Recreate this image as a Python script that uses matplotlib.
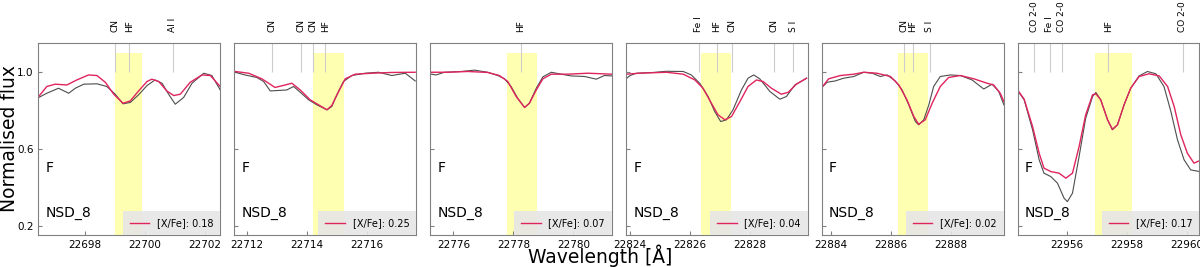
import numpy as np
import matplotlib
matplotlib.use('Agg')
import matplotlib.pyplot as plt
from matplotlib.ticker import MultipleLocator, FormatStrFormatter

# HF line centre of every window, fitted abundance and the yellow fit window
hf_centre = [22699.48, 22714.61, 22778.25, 22826.89, 22886.72, 22957.39]
xfe = [0.18, 0.25, 0.07, 0.04, 0.02, 0.17]
win_lo = [22699.0, 22714.22, 22777.77, 22826.37, 22886.23, 22956.94]
win_hi = [22699.9, 22715.24, 22778.77, 22827.37, 22887.23, 22958.16]

line_wave = [[22699.0, 22699.48, 22700.92],
             [22712.85, 22713.81, 22714.22, 22714.61],
             [22778.25],
             [22826.28, 22826.89, 22827.38, 22828.8, 22829.43],
             [22886.42, 22886.72, 22887.29],
             [22954.91, 22955.43, 22955.84, 22957.39, 22959.86]]
line_name = [['CN', 'HF', 'Al I'],
             ['CN', 'CN', 'CN', 'HF'],
             ['HF'],
             ['Fe I', 'HF', 'CN', 'CN', 'S I'],
             ['CN', 'HF', 'S I'],
             ['CO 2-0', 'Fe I', 'CO 2-0', 'HF', 'CO 2-0']]

p1_obs_w = [22696.46, 22696.73, 22697.12, 22697.46, 22697.68, 22697.96, 22698.40, 22698.73, 22699.01, 22699.27, 22699.51,
            22699.79, 22700.07, 22700.34, 22700.57, 22700.79, 22701.01, 22701.29, 22701.57, 22701.96, 22702.23, 22702.51]
p1_obs_f = [0.867, 0.889, 0.915, 0.889, 0.915, 0.936, 0.938, 0.924, 0.884, 0.834, 0.841,
            0.881, 0.929, 0.958, 0.941, 0.884, 0.832, 0.867, 0.941, 0.993, 0.981, 0.906]
p1_mod_w = [22696.46, 22696.73, 22697.01, 22697.40, 22697.73, 22698.12, 22698.40, 22698.68, 22698.96, 22699.27, 22699.51,
            22699.79, 22700.07, 22700.23, 22700.46, 22700.73, 22700.96, 22701.18, 22701.51, 22701.90, 22702.18, 22702.51]
p1_mod_f = [0.872, 0.924, 0.936, 0.932, 0.958, 0.984, 0.981, 0.946, 0.884, 0.837, 0.849,
            0.901, 0.950, 0.962, 0.950, 0.901, 0.877, 0.884, 0.946, 0.984, 0.981, 0.924]

p2_obs_w = [22711.61, 22711.94, 22712.33, 22712.56, 22712.78, 22713.00, 22713.33, 22713.56, 22713.78, 22714.06, 22714.33,
            22714.67, 22714.83, 22715.00, 22715.22, 22715.50, 22715.94, 22716.39, 22716.83, 22717.28, 22717.61]
p2_obs_f = [0.998, 0.984, 0.971, 0.950, 0.901, 0.903, 0.906, 0.924, 0.894, 0.855, 0.829,
            0.803, 0.820, 0.881, 0.950, 0.981, 0.993, 0.998, 0.981, 0.993, 0.953]
p2_mod_w = [22711.61, 22712.06, 22712.50, 22712.94, 22713.28, 22713.50, 22713.78, 22714.11, 22714.39, 22714.67, 22714.83,
            22715.03, 22715.28, 22715.61, 22716.17, 22716.83, 22717.61]
p2_mod_f = [1.002, 0.993, 0.964, 0.919, 0.932, 0.941, 0.906, 0.855, 0.829, 0.803, 0.825,
            0.889, 0.964, 0.988, 0.993, 0.997, 0.998]

p3_obs_w = [22775.26, 22775.42, 22775.70, 22776.26, 22776.70, 22777.14, 22777.48, 22777.70, 22777.92, 22778.14, 22778.37,
            22778.53, 22778.76, 22778.98, 22779.26, 22779.59, 22779.92, 22780.37, 22780.76, 22781.03, 22781.28]
p3_obs_f = [0.988, 0.984, 0.998, 1.002, 1.009, 0.998, 0.981, 0.964, 0.924, 0.863, 0.815,
            0.837, 0.915, 0.974, 0.998, 0.988, 0.979, 0.976, 0.962, 0.981, 0.979]
p3_mod_w = [22775.26, 22775.81, 22776.48, 22777.14, 22777.53, 22777.81, 22778.09, 22778.37, 22778.53, 22778.76, 22778.98,
            22779.26, 22779.81, 22780.48, 22781.28]
p3_mod_f = [0.998, 0.998, 1.002, 0.997, 0.981, 0.950, 0.872, 0.815, 0.837, 0.906, 0.964,
            0.988, 0.988, 0.993, 0.988]

p4_obs_w = [22823.86, 22824.00, 22824.21, 22824.77, 22825.21, 22825.77, 22826.04, 22826.32, 22826.60, 22826.82, 22827.02,
            22827.21, 22827.43, 22827.71, 22827.93, 22828.12, 22828.32, 22828.66, 22828.99, 22829.21, 22829.49, 22829.88]
p4_obs_f = [0.964, 0.981, 0.993, 0.997, 1.003, 1.002, 0.984, 0.941, 0.872, 0.794, 0.742,
            0.751, 0.803, 0.906, 0.967, 0.984, 0.964, 0.898, 0.858, 0.872, 0.932, 0.967]
p4_mod_w = [22823.86, 22824.32, 22825.21, 22825.77, 22826.16, 22826.43, 22826.71, 22826.93, 22827.16, 22827.38, 22827.66,
            22827.93, 22828.21, 22828.43, 22828.71, 22829.04, 22829.27, 22829.54, 22829.88]
p4_mod_f = [0.988, 0.993, 0.998, 0.988, 0.958, 0.915, 0.837, 0.777, 0.751, 0.768, 0.846,
            0.924, 0.958, 0.950, 0.915, 0.884, 0.894, 0.936, 0.967]

p5_obs_w = [22883.70, 22883.87, 22884.14, 22884.42, 22884.76, 22885.09, 22885.37, 22885.64, 22885.87, 22886.14, 22886.37,
            22886.59, 22886.81, 22886.92, 22887.09, 22887.26, 22887.42, 22887.64, 22887.98, 22888.31, 22888.70, 22889.09,
            22889.37, 22889.59, 22889.76]
p5_obs_f = [0.920, 0.946, 0.953, 0.967, 0.976, 0.998, 0.993, 0.976, 0.984, 0.953, 0.906,
            0.829, 0.742, 0.725, 0.751, 0.829, 0.924, 0.976, 0.984, 0.981, 0.958, 0.911,
            0.936, 0.898, 0.829]
p5_mod_w = [22883.70, 22883.92, 22884.31, 22884.76, 22885.09, 22885.53, 22885.98, 22886.26, 22886.53, 22886.76, 22886.92,
            22887.14, 22887.37, 22887.64, 22887.92, 22888.31, 22888.76, 22889.20, 22889.42, 22889.64, 22889.76]
p5_mod_f = [0.920, 0.964, 0.981, 0.988, 0.998, 0.993, 0.976, 0.932, 0.855, 0.768, 0.728,
            0.751, 0.837, 0.924, 0.971, 0.981, 0.964, 0.941, 0.932, 0.889, 0.846]

p6_obs_w = [22954.36, 22954.58, 22954.86, 22955.08, 22955.24, 22955.47, 22955.69, 22955.91, 22956.02, 22956.19, 22956.41,
            22956.63, 22956.86, 22956.97, 22957.13, 22957.36, 22957.52, 22957.69, 22957.91, 22958.13, 22958.41, 22958.69,
            22958.97, 22959.24, 22959.47, 22959.69, 22959.91, 22960.13, 22960.43]
p6_obs_f = [0.903, 0.855, 0.699, 0.543, 0.474, 0.456, 0.422, 0.344, 0.326, 0.370, 0.560,
            0.759, 0.872, 0.893, 0.855, 0.751, 0.699, 0.725, 0.829, 0.915, 0.979, 1.002,
            0.990, 0.924, 0.794, 0.647, 0.543, 0.491, 0.482]
p6_mod_w = [22954.36, 22954.58, 22954.86, 22955.08, 22955.24, 22955.47, 22955.74, 22955.97, 22956.19, 22956.41, 22956.63,
            22956.86, 22956.97, 22957.13, 22957.36, 22957.52, 22957.69, 22957.91, 22958.13, 22958.41, 22958.74, 22959.08,
            22959.36, 22959.58, 22959.80, 22960.02, 22960.24, 22960.43]
p6_mod_f = [0.906, 0.858, 0.716, 0.577, 0.500, 0.482, 0.474, 0.448, 0.474, 0.612, 0.777,
            0.881, 0.886, 0.855, 0.751, 0.702, 0.725, 0.829, 0.915, 0.976, 0.990, 0.979,
            0.924, 0.820, 0.673, 0.577, 0.526, 0.539]

obs = [(p1_obs_w, p1_obs_f), (p2_obs_w, p2_obs_f), (p3_obs_w, p3_obs_f),
       (p4_obs_w, p4_obs_f), (p5_obs_w, p5_obs_f), (p6_obs_w, p6_obs_f)]
mod = [(p1_mod_w, p1_mod_f), (p2_mod_w, p2_mod_f), (p3_mod_w, p3_mod_f),
       (p4_mod_w, p4_mod_f), (p5_mod_w, p5_mod_f), (p6_mod_w, p6_mod_f)]

half_width = 3.03
red = '#e0245e'

fig, axes = plt.subplots(1, 6, figsize=(12, 2.67), dpi=100, sharey=True)
fig.subplots_adjust(left=0.032, right=0.9995, top=0.839, bottom=0.12, wspace=0.077)

for i, ax in enumerate(axes):
    ax.fill_between([win_lo[i], win_hi[i]], 0, 1.1, color='yellow', alpha=0.3, lw=0)
    ax.vlines(line_wave[i], 1.0, 1.2, color='0.8', lw=0.8)
    for w, name in zip(line_wave[i], line_name[i]):
        ax.annotate(name, xy=(w, 1.0), xycoords=('data', 'axes fraction'),
                    xytext=(0, 11), textcoords='offset pixels', rotation=90,
                    ha='center', va='bottom', fontsize=6.5, annotation_clip=False)
    ax.plot(obs[i][0], obs[i][1], color='0.3', lw=0.8)
    ax.plot(mod[i][0], mod[i][1], color=red, lw=1.0, label='[X/Fe]: %.2f' % xfe[i])
    ax.set_xlim(hf_centre[i] - half_width, hf_centre[i] + half_width)
    ax.set_ylim(0.153, 1.15)
    ax.xaxis.set_major_locator(MultipleLocator(2))
    ax.xaxis.set_major_formatter(FormatStrFormatter('%d'))
    ax.set_yticks([0.2, 0.6, 1.0])
    ax.tick_params(direction='in', length=3, labelsize=7.5, color='0.5')
    for s in ax.spines.values():
        s.set_color('0.5')
    ax.text(0.04, 0.35, 'F', transform=ax.transAxes, fontsize=10, va='center')
    ax.text(0.04, 0.115, 'NSD_8', transform=ax.transAxes, fontsize=10, va='center')
    leg = ax.legend(loc='lower right', fontsize=7, borderaxespad=0.3,
                    facecolor='#e6e6e6', edgecolor='none', framealpha=0.9)
    leg.get_frame().set_boxstyle('square')

fig.text(0.0, 0.48, 'Normalised flux', rotation=90, ha='left', va='center', fontsize=13.5)
fig.text(0.5, 0.0, 'Wavelength [Å]', ha='center', va='bottom', fontsize=13.5)

fig.savefig('out.png', dpi=100)
